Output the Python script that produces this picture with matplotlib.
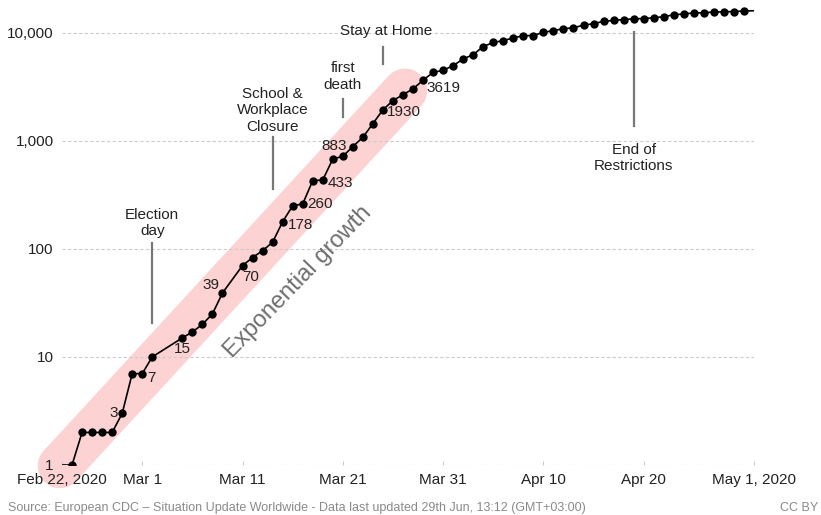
import matplotlib
matplotlib.use("Agg")
import matplotlib.pyplot as plt
import pandas as pd

plt.rcParams['font.family'] = ['Liberation Sans', 'DejaVu Sans']

# confirmed cases (cumulative)
dates = ['2020-02-21', '2020-02-23', '2020-02-24', '2020-02-25', '2020-02-26', '2020-02-27',
         '2020-02-28', '2020-02-29', '2020-03-01', '2020-03-02', '2020-03-05', '2020-03-06',
         '2020-03-07', '2020-03-08', '2020-03-09', '2020-03-11', '2020-03-12', '2020-03-13',
         '2020-03-14', '2020-03-15', '2020-03-16', '2020-03-17', '2020-03-18', '2020-03-19',
         '2020-03-20', '2020-03-21', '2020-03-22', '2020-03-23', '2020-03-24', '2020-03-25',
         '2020-03-26', '2020-03-27', '2020-03-28', '2020-03-29', '2020-03-30', '2020-03-31',
         '2020-04-01', '2020-04-02', '2020-04-03', '2020-04-04', '2020-04-05', '2020-04-06',
         '2020-04-07', '2020-04-08', '2020-04-09', '2020-04-10', '2020-04-11', '2020-04-12',
         '2020-04-13', '2020-04-14', '2020-04-15', '2020-04-16', '2020-04-17', '2020-04-18',
         '2020-04-19', '2020-04-20', '2020-04-21', '2020-04-22', '2020-04-23', '2020-04-24',
         '2020-04-25', '2020-04-26', '2020-04-27', '2020-04-28', '2020-04-29', '2020-04-30',
         '2020-05-02']
cases = [1, 1, 2, 2, 2, 2,
         3, 7, 7, 10, 15, 17,
         20, 25, 39, 70, 83, 96,
         115, 178, 250, 260, 427, 433,
         677, 717, 883, 1075, 1440, 1930,
         2350, 2660, 3020, 3619, 4290, 4470,
         4950, 5700, 6250, 7430, 8100, 8430,
         8930, 9370, 9400, 10050, 10450, 10850,
         11100, 11700, 12100, 12700, 12980, 13200,
         13400, 13500, 13700, 14050, 14600, 14900,
         15200, 15250, 15500, 15580, 15650, 15850,
         16000]

# labelled points
label_dates = ['2020-02-28', '2020-03-01', '2020-03-05', '2020-03-09', '2020-03-11', '2020-03-15',
               '2020-03-17', '2020-03-19', '2020-03-22', '2020-03-25', '2020-03-29']
label_text = ['3', '7', '15', '39', '70', '178', '260', '433', '883', '1930', '3619']

events = ['Election\nday', 'School &\nWorkplace\nClosure', 'first\ndeath', 'Stay at Home', 'End of\nRestrictions']
event_dates = ['2020-03-02', '2020-03-14', '2020-03-21', '2020-03-25', '2020-04-19']

x = pd.to_datetime(dates)
xmin, xmax = pd.Timestamp('2020-02-22'), pd.Timestamp('2020-05-01')

fig = plt.figure(figsize=(8.21, 5.15), dpi=100)
ax = fig.add_axes([62 / 821, 50 / 515, 692 / 821, 461 / 515])
ax.set_yscale('log')
ax.set_xlim(xmin, xmax)
ax.set_ylim(1, 10 ** (461 / 108.1))

# pink band behind the exponential part
ax.plot([pd.Timestamp('2020-02-21 19:00'), pd.Timestamp('2020-03-27 05:00')], [0.98, 2900],
        color='#fcd2d2', lw=32, solid_capstyle='round', clip_on=False, zorder=0)

ax.plot(x, cases, color='black', lw=1.2, marker='o', ms=5, zorder=3)

offsets = [(-3, 0.5, 'right'), (3.5, -3, 'left'), (0, -8, 'center'), (-2, 5.5, 'right'),
           (0, -8.5, 'left'), (3.5, -2, 'left'), (3, 0, 'left'), (3.5, -2, 'left'),
           (-4, 0.7, 'right'), (3, -1.3, 'left'), (2.7, -5.8, 'left')]
for d, t, (dx, dy, ha) in zip(label_dates, label_text, offsets):
    v = cases[dates.index(d)]
    ax.annotate(t, xy=(pd.Timestamp(d), v), xytext=(dx, dy), textcoords='offset points',
                ha=ha, va='center', fontsize=11, color='#222222', zorder=4)

# event markers: vertical gray ticks with text
line_spans = [(20.6, 113.6), (359, 1089), (1667, 2449), (5164, 7413), (1377, 10210)]
text_pos = [(126, 'bottom'), (1161, 'bottom'), (2843, 'bottom'), (10400, 'center'), (960, 'top')]
for ev, d, (y0, y1), (ty, va) in zip(events, event_dates, line_spans, text_pos):
    dt = pd.Timestamp(d)
    ax.plot([dt, dt], [y0, y1], color='#777777', lw=1.6, zorder=2)
    tx = dt + pd.Timedelta(hours=8) if ev == 'Stay at Home' else dt
    ax.text(tx, ty, ev, ha='center', va=va, fontsize=11, color='#222222',
            linespacing=1.2, zorder=2)

ax.text(pd.Timestamp('2020-03-16 12:00'), 49, 'Exponential growth', rotation=46,
        rotation_mode='anchor', ha='center', va='center', fontsize=17, color='#6e6e6e', zorder=2)

# axes styling
for s in ax.spines.values():
    s.set_visible(False)
ax.set_yticks([1, 10, 100, 1000, 10000])
ax.set_yticklabels(['1', '10', '100', '1,000', '10,000'])
ax.yaxis.set_minor_locator(matplotlib.ticker.NullLocator())
ax.grid(axis='y', which='major', color='#cccccc', ls=(0, (3, 2)), lw=0.8, zorder=1)
ax.tick_params(axis='y', length=0, pad=6, labelsize=11, labelcolor='#222222')

xt = pd.to_datetime(['2020-02-22', '2020-03-01', '2020-03-11', '2020-03-21', '2020-03-31',
                     '2020-04-10', '2020-04-20', '2020-05-01'])
ax.set_xticks(xt)
ax.set_xticklabels(['Feb 22, 2020', 'Mar 1', 'Mar 11', 'Mar 21', 'Mar 31', 'Apr 10', 'Apr 20', 'May 1, 2020'])
ax.tick_params(axis='x', direction='in', length=3, color='#cccccc', pad=6, labelsize=11,
               labelcolor='#222222')

fig.text(8 / 821, 7 / 515, 'Source: European CDC – Situation Update Worldwide - Data last updated 29th Jun, 13:12 (GMT+03:00)',
         fontsize=9, color='#8a8a8a', ha='left', va='center')
fig.text(818 / 821, 7 / 515, 'CC BY', fontsize=9, color='#8a8a8a', ha='right', va='center')

fig.savefig('out.png', dpi=100)
